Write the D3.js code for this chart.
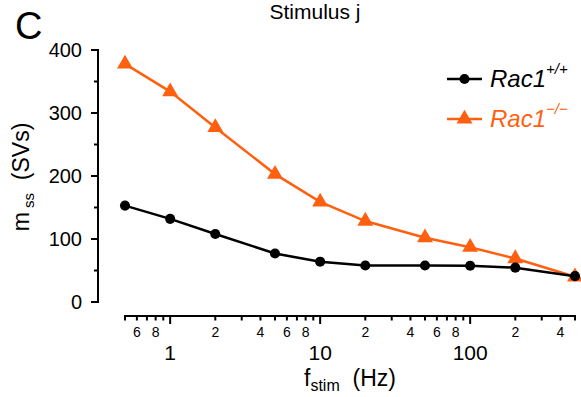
<!DOCTYPE html>
<html>
<head>
<meta charset="utf-8">
<script src="https://cdn.jsdelivr.net/npm/d3@7"></script>
<style>
  html, body { margin: 0; padding: 0; background: #fff; }
  svg { display: block; font-family: "Liberation Sans", Arial, sans-serif; }
</style>
</head>
<body>
<svg id="chart" width="581" height="397"></svg>
<script>
// Stimulation frequencies (Hz)
const freqs = [0.5, 1, 2, 5, 10, 20, 50, 100, 200, 500];
// Steady-state pool size m_ss (SVs)
const wildType = [153, 132, 108, 77, 64, 58, 58, 57.5, 54.5, 41];
const knockOut = [378, 334, 277, 203, 159, 128.5, 102, 87, 69, 40];
// Axis ticks
const yMajorTicks = [0, 100, 200, 300, 400];
const yMinorTicks = [50, 150, 250, 350];
const xMajorTicks = [1, 10, 100];
const xMinorTicks = [0.5, 0.6, 0.7, 0.8, 0.9, 2, 3, 4, 5, 6, 7, 8, 9,
                     20, 30, 40, 50, 60, 70, 80, 90, 200, 300, 400, 500];
const xMinorLabelled = [0.6, 0.8, 2, 4, 6, 8, 20, 40, 60, 80, 200, 400];

const black = "#000000";
const orange = "#ff6010";

const svg = d3.select("#chart");

const x = d3.scaleLog().domain([0.5, 500]).range([125, 575]);
const y = d3.scaleLinear().domain([0, 400]).range([302, 50]);

const yAxisX = 98;
const xAxisY = 316;

// Y axis
const gy = svg.append("g").attr("transform", `translate(${yAxisX},0)`);
gy.append("line").attr("y1", y(0) + 1).attr("y2", y(400) - 1).attr("stroke", black).attr("stroke-width", 2);
gy.selectAll("line.maj").data(yMajorTicks).join("line")
  .attr("x1", -7).attr("x2", 0).attr("y1", d => y(d)).attr("y2", d => y(d))
  .attr("stroke", black).attr("stroke-width", 2);
gy.selectAll("line.min").data(yMinorTicks).join("line")
  .attr("x1", -4).attr("x2", 0).attr("y1", d => y(d)).attr("y2", d => y(d))
  .attr("stroke", black).attr("stroke-width", 2);
gy.selectAll("text").data(yMajorTicks).join("text")
  .attr("x", -16).attr("y", d => y(d)).attr("dy", "0.36em")
  .attr("text-anchor", "end").attr("font-size", 20).text(d => d);

// X axis
const gx = svg.append("g").attr("transform", `translate(0,${xAxisY})`);
gx.append("line").attr("x1", x(0.5) - 1).attr("x2", x(500) + 1).attr("stroke", black).attr("stroke-width", 2);
gx.selectAll("line.maj").data(xMajorTicks).join("line")
  .attr("x1", d => x(d)).attr("x2", d => x(d)).attr("y1", 0).attr("y2", 8)
  .attr("stroke", black).attr("stroke-width", 2);
gx.selectAll("line.min").data(xMinorTicks).join("line")
  .attr("x1", d => x(d)).attr("x2", d => x(d)).attr("y1", 0).attr("y2", 4.5)
  .attr("stroke", black).attr("stroke-width", 2);
gx.selectAll("text.min").data(xMinorLabelled).join("text")
  .attr("x", d => x(d)).attr("y", 21).attr("text-anchor", "middle")
  .attr("font-size", 14).text(d => String(d).replace(/^0\./, "").charAt(0));
gx.selectAll("text.maj").data(xMajorTicks).join("text")
  .attr("x", d => x(d)).attr("y", 44).attr("text-anchor", "middle")
  .attr("font-size", 21).text(d => d);

// Axis titles
const xt = svg.append("text").attr("x", 350).attr("y", 386).attr("text-anchor", "middle").attr("font-size", 23);
xt.append("tspan").text("f");
xt.append("tspan").attr("font-size", 16).attr("dy", 5).text("stim");
xt.append("tspan").attr("dy", -5).text("\u00a0\u00a0(Hz)");

const yt = svg.append("text").attr("transform", "translate(29,177) rotate(-90)")
  .attr("text-anchor", "middle").attr("font-size", 23);
yt.append("tspan").text("m");
yt.append("tspan").attr("font-size", 15).attr("dy", 5).text("\u00a0ss");
yt.append("tspan").attr("dy", -5).text("\u00a0\u00a0(SVs)");

// Title and panel letter
svg.append("text").attr("x", 315).attr("y", 19).attr("text-anchor", "middle").attr("font-size", 21).text("Stimulus j");
svg.append("text").attr("x", 15).attr("y", 39).attr("font-size", 38).text("C");

// Series
const line = d3.line().x(d => x(d[0])).y(d => y(d[1]));
const series = [
  { values: knockOut, color: orange, symbol: d3.symbolTriangle, size: 110 },
  { values: wildType, color: black, symbol: d3.symbolCircle, size: 80 }
];
series.forEach(s => {
  const pts = freqs.map((f, i) => [f, s.values[i]]);
  svg.append("path").attr("d", line(pts)).attr("fill", "none")
    .attr("stroke", s.color).attr("stroke-width", 2.5);
  svg.append("g").selectAll("path").data(pts).join("path")
    .attr("transform", d => `translate(${x(d[0])},${y(d[1])})`)
    .attr("d", d3.symbol().type(s.symbol).size(s.size)).attr("fill", s.color);
});

// Legend
const legend = [
  { label: "Rac1", sup: "+/+", color: black, symbol: d3.symbolCircle, size: 80, y: 79 },
  { label: "Rac1", sup: "\u2212/\u2212", color: orange, symbol: d3.symbolTriangle, size: 110, y: 119 }
];
legend.forEach(l => {
  const g = svg.append("g");
  g.append("line").attr("x1", 447).attr("x2", 482).attr("y1", l.y).attr("y2", l.y)
    .attr("stroke", l.color).attr("stroke-width", 2.5);
  g.append("path").attr("transform", `translate(464.5,${l.y})`)
    .attr("d", d3.symbol().type(l.symbol).size(l.size)).attr("fill", l.color);
  const t = g.append("text").attr("x", 490).attr("y", l.y + 8).attr("font-size", 24)
    .attr("font-style", "italic").attr("fill", l.color);
  t.append("tspan").text(l.label);
  t.append("tspan").attr("font-size", 15).attr("dy", -13).text(l.sup);
});
</script>
</body>
</html>
